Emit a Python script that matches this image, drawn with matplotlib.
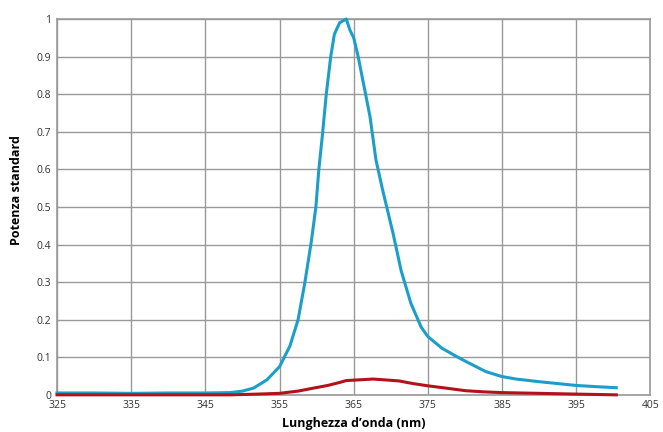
import matplotlib.pyplot as plt
import numpy as np

plt.rcParams['font.family'] = ['Open Sans', 'DejaVu Sans']

# blue series (standard power)
blue_x = [325, 330, 335, 340, 345, 348.4, 350, 351.5, 353.3, 355, 356.4, 357.5, 358.4, 359.3,
          359.9, 360.3, 360.8, 361.3, 361.9, 362.4, 363.1, 364.0, 364.5, 365, 365.6, 366.5,
          367.2, 368.0, 368.9, 370.3, 371.4, 372.7, 374.1, 375, 376.9, 378.5, 380.1, 382.8,
          384.9, 386.9, 390, 392.5, 395, 397.5, 400.4]
blue_y = [0.005, 0.005, 0.004, 0.005, 0.005, 0.006, 0.01, 0.018, 0.04, 0.075, 0.13, 0.2, 0.297,
          0.41, 0.5, 0.6, 0.695, 0.8, 0.9, 0.96, 0.99, 1.0, 0.97, 0.95, 0.9, 0.81, 0.74, 0.625,
          0.545, 0.43, 0.33, 0.244, 0.18, 0.155, 0.124, 0.106, 0.089, 0.062, 0.049, 0.042,
          0.035, 0.03, 0.025, 0.022, 0.019]

# red series
red_x = [325, 335, 345, 348.4, 352, 355, 357.5, 359.6, 361.5, 363.1, 364, 365.8, 367.6, 369.8,
         371.1, 373, 375, 377.8, 380.1, 382.5, 384.9, 390, 395, 400.4]
red_y = [0.0, 0.0, 0.0, 0.0, 0.002, 0.004, 0.01, 0.018, 0.025, 0.033, 0.038, 0.04, 0.042,
         0.039, 0.037, 0.03, 0.024, 0.017, 0.011, 0.008, 0.006, 0.004, 0.002, 0.0]

x_ticks = [325, 335, 345, 355, 365, 375, 385, 395, 405]
y_ticks = [0, 0.1, 0.2, 0.3, 0.4, 0.5, 0.6, 0.7, 0.8, 0.9, 1]
y_labels = ['0', '0.1', '0.2', '0.3', '0.4', '0.5', '0.6', '0.7', '0.8', '0.9', '1']

fig = plt.figure(figsize=(6.63, 4.32), dpi=100)
ax = fig.add_axes([0.086, 0.086, 0.895, 0.87])

ax.plot(blue_x, blue_y, color='#1b9fc9', linewidth=2.2, zorder=3, clip_on=False)
ax.plot(red_x, red_y, color='#b3121c', linewidth=2.2, zorder=3, clip_on=False)

ax.set_xlim(325, 405)
ax.set_ylim(0, 1)
ax.set_xticks(x_ticks)
ax.set_xticklabels([str(t) for t in x_ticks], fontsize=7.5, color='#333333')
ax.set_yticks(y_ticks)
ax.set_yticklabels(y_labels, fontsize=7.5, color='#333333')
ax.tick_params(length=0, pad=4)
ax.grid(True, color='#999999', linewidth=1)
ax.set_axisbelow(True)
for s in ax.spines.values():
    s.set_color('#999999')
    s.set_linewidth(1.2)

ax.set_xlabel('Lunghezza d’onda (nm)', fontsize=9, fontweight='bold', labelpad=4)
ax.set_ylabel('Potenza standard', fontsize=9, fontweight='bold')
ax.yaxis.set_label_coords(-0.057, 0.545)

fig.savefig('out.png', dpi=100)
